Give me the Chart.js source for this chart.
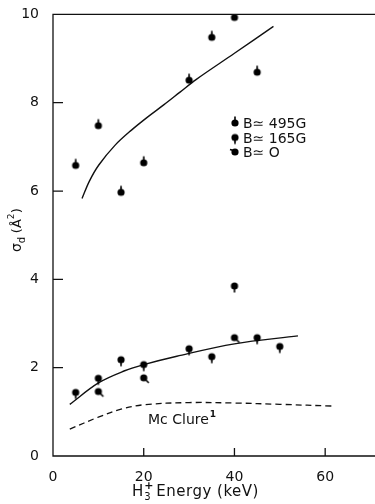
<!DOCTYPE html>
<html>
<head>
<meta charset="utf-8">
<script src="https://cdn.jsdelivr.net/npm/chart.js@4.4.1/dist/chart.umd.min.js"></script>
<style>
  html, body { margin: 0; padding: 0; background: #fff; }
  #wrap { width: 375px; height: 504px; }
</style>
</head>
<body>
<div id="wrap"><canvas id="sigmaChart" width="375" height="504"></canvas></div>
<script>
// measured points, B ~ 495 G (tick above)
const b495Energy = [5, 10, 15, 20, 30, 35, 40, 45];
const b495Sigma = [6.58, 7.48, 5.97, 6.64, 8.51, 9.48, 9.93, 8.69];

// B ~ 165 G (tick below)
const b165Energy = [5, 10, 15, 20, 30, 35, 40, 45, 50];
const b165Sigma = [1.44, 1.76, 2.18, 2.07, 2.43, 2.25, 3.85, 2.68, 2.48];

// B ~ 0 (tail)
const b0Energy = [10, 20, 40];
const b0Sigma = [1.46, 1.77, 2.68];

// hand drawn curves through the data
const upperCurveE = [6.4, 8, 10.1, 13.7, 17.3, 20.9, 24.4, 28, 31.6, 40, 48.6];
const upperCurveS = [5.83, 6.22, 6.59, 7.04, 7.38, 7.68, 7.95, 8.24, 8.53, 9.12, 9.73];
const lowerCurveE = [3.7, 10.1, 15.8, 20, 27.3, 40, 54];
const lowerCurveS = [1.17, 1.66, 1.93, 2.07, 2.26, 2.54, 2.72];

// McClure theory (dashed)
const mcclureE = [3.7, 10, 15, 20, 30, 40, 50, 62];
const mcclureS = [0.61, 0.88, 1.06, 1.16, 1.21, 1.2, 1.17, 1.13];

const xTicks = [0, 20, 40, 60];
const yTicks = [0, 2, 4, 6, 8, 10];
const legendLabels = ['B\u2243 495G', 'B\u2243 165G', 'B\u2243 O'];

const INK = '#111';
const FONT = '"DejaVu Sans", sans-serif';

const toPts = (xs, ys) => xs.map((x, i) => ({ x: x, y: ys[i] }));

// little marker images, dot plus a tick / tail
const makeMarker = (kind) => {
  const c = document.createElement('canvas');
  c.width = 16; c.height = 16;
  const g = c.getContext('2d');
  g.fillStyle = '#000';
  g.strokeStyle = '#000';
  g.lineWidth = 1.6;
  g.beginPath();
  g.arc(8, 8, 3.6, 0, Math.PI * 2);
  g.fill();
  g.beginPath();
  if (kind === 'up') { g.moveTo(8, 6); g.lineTo(8, 1.5); }
  if (kind === 'down') { g.moveTo(8, 10); g.lineTo(8, 14.5); }
  if (kind === 'tail') { g.moveTo(9.5, 9.5); g.lineTo(13, 13); }
  if (kind === 'tailUp') { g.moveTo(6.5, 6.5); g.lineTo(3, 5.5); }
  g.stroke();
  return c;
};

const markUp = makeMarker('up');
const markDown = makeMarker('down');
const markTail = makeMarker('tail');
const markTailUp = makeMarker('tailUp');

const decorPlugin = {
  id: 'decor',
  afterDraw(chart) {
    const ctx = chart.ctx;
    const a = chart.chartArea;
    const xs = chart.scales.x;
    const ys = chart.scales.y;
    ctx.save();
    ctx.strokeStyle = INK;
    ctx.lineWidth = 1.3;

    // frame: left, bottom, top (no right side)
    ctx.beginPath();
    ctx.moveTo(375, a.top); ctx.lineTo(a.left, a.top);
    ctx.lineTo(a.left, a.bottom); ctx.lineTo(375, a.bottom);
    ctx.stroke();

    // inward ticks
    ctx.beginPath();
    yTicks.slice(1, -1).forEach(v => {
      const py = ys.getPixelForValue(v);
      ctx.moveTo(a.left, py); ctx.lineTo(a.left + 10, py);
    });
    xTicks.slice(1).forEach(v => {
      const px = xs.getPixelForValue(v);
      ctx.moveTo(px, a.bottom); ctx.lineTo(px, a.bottom - 8);
    });
    ctx.stroke();

    ctx.fillStyle = INK;
    ctx.textBaseline = 'alphabetic';

    // x title  H3+ Energy (keV)
    ctx.font = '15px ' + FONT;
    ctx.textAlign = 'left';
    let tx = 132, ty = 496;
    ctx.fillText('H', tx, ty);
    tx += ctx.measureText('H').width + 1;
    ctx.font = '10px ' + FONT;
    ctx.fillText('3', tx, ty + 4);
    ctx.font = 'bold 11px ' + FONT;
    ctx.fillText('+', tx, ty - 7);
    tx += 12;
    ctx.font = '15px ' + FONT;
    ctx.letterSpacing = '0.5px';
    ctx.fillText('Energy (keV)', tx, ty);
    ctx.letterSpacing = '0px';

    // y title  sigma_d (A^2), rotated
    ctx.save();
    ctx.translate(21, 252);
    ctx.rotate(-Math.PI / 2);
    ctx.font = '14px ' + FONT;
    ctx.fillText('\u03c3', 0, 0);
    let w = ctx.measureText('\u03c3').width;
    ctx.font = '10px ' + FONT;
    ctx.fillText('d', w, 4);
    w += 10;
    ctx.font = '13px ' + FONT;
    ctx.fillText('(\u00c5', w, 0);
    w += ctx.measureText('(\u00c5').width;
    ctx.font = '9px ' + FONT;
    ctx.fillText('2', w, -7);
    w += 6;
    ctx.font = '13px ' + FONT;
    ctx.fillText(')', w, 0);
    ctx.restore();

    // legend
    const marks = [markUp, markDown, markTailUp];
    ctx.font = '14px ' + FONT;
    legendLabels.forEach((t, i) => {
      const ly = 123 + i * 14.5;
      ctx.drawImage(marks[i], 227, ly - 8);
      ctx.fillText(t, 243, ly + 5);
    });

    // McClure label
    ctx.font = '14px ' + FONT;
    ctx.fillText('Mc Clure', 148, 424);
    const mw = ctx.measureText('Mc Clure').width;
    ctx.font = 'bold 9px ' + FONT;
    ctx.fillText('1', 148 + mw + 1, 417);
    ctx.restore();
  }
};

const curveStyle = {
  showLine: true,
  borderColor: INK,
  borderWidth: 1.4,
  pointRadius: 0,
  tension: 0.35
};

new Chart(document.getElementById('sigmaChart'), {
  type: 'scatter',
  data: {
    datasets: [
      { label: 'B 495 G', data: toPts(b495Energy, b495Sigma), pointStyle: markUp, pointRadius: 8 },
      { label: 'B 165 G', data: toPts(b165Energy, b165Sigma), pointStyle: markDown, pointRadius: 8 },
      { label: 'B 0', data: toPts(b0Energy, b0Sigma), pointStyle: markTail, pointRadius: 8 },
      Object.assign({ label: 'fit high', data: toPts(upperCurveE, upperCurveS) }, curveStyle),
      Object.assign({ label: 'fit low', data: toPts(lowerCurveE, lowerCurveS) }, curveStyle),
      Object.assign({ label: 'McClure', data: toPts(mcclureE, mcclureS) }, curveStyle,
        { borderWidth: 1.3, borderDash: [6, 4] })
    ]
  },
  options: {
    responsive: false,
    animation: false,
    devicePixelRatio: 1,
    layout: { padding: { left: 0, right: 1, top: 12, bottom: 0 } },
    plugins: {
      legend: { display: false },
      tooltip: { enabled: false }
    },
    scales: {
      x: {
        type: 'linear',
        min: 0,
        max: 69,
        afterBuildTicks: (s) => { s.ticks = xTicks.map(v => ({ value: v })); },
        afterFit: (s) => { s.height = 48; },
        grid: { display: false },
        border: { display: false },
        ticks: { color: INK, padding: 5, maxRotation: 0, font: { family: FONT, size: 14 } }
      },
      y: {
        type: 'linear',
        min: 0,
        max: 10,
        afterBuildTicks: (s) => { s.ticks = yTicks.map(v => ({ value: v })); },
        afterFit: (s) => { s.width = 53; },
        grid: { display: false },
        border: { display: false },
        ticks: { color: INK, padding: 6, font: { family: FONT, size: 14 } }
      }
    }
  },
  plugins: [decorPlugin]
});
</script>
</body>
</html>
